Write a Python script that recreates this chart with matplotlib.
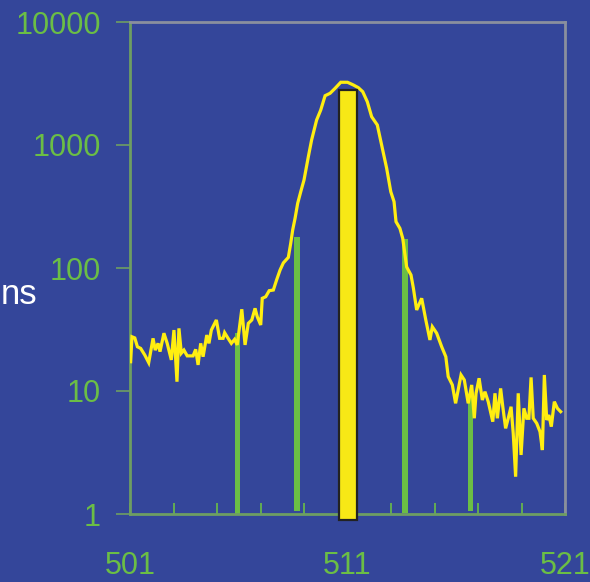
import matplotlib
matplotlib.use("Agg")
import matplotlib.pyplot as plt
from matplotlib.ticker import FixedLocator, FixedFormatter, NullLocator

# ---- data ----
spec_x = [501.03, 501.09, 501.22, 501.34, 501.49, 501.68, 501.86, 502.06, 502.16, 502.29,
          502.38, 502.56, 502.71, 502.90, 503.02, 503.16, 503.25, 503.36, 503.48, 503.63,
          503.90, 504.02, 504.13, 504.25, 504.36, 504.53, 504.63, 504.74, 504.97, 505.12,
          505.28, 505.35, 505.51, 505.66, 505.81, 505.93, 506.14, 506.29, 506.44, 506.60,
          506.75, 506.85, 507.01, 507.08, 507.24, 507.40, 507.59, 507.74, 507.90, 508.05,
          508.28, 508.39, 508.48, 508.59, 508.71, 508.85, 509.00, 509.20, 509.35, 509.58,
          509.77, 509.97, 510.20, 510.43, 510.69, 511.00, 511.27, 511.50, 511.70, 511.91,
          512.11, 512.37, 512.57, 512.80, 512.99, 513.14, 513.23, 513.41, 513.54, 513.72,
          513.92, 514.03, 514.18, 514.41, 514.60, 514.79, 514.90, 515.10, 515.33, 515.52,
          515.63, 515.82, 515.97, 516.22, 516.37, 516.55, 516.71, 516.83, 516.91, 517.05,
          517.20, 517.32, 517.47, 517.68, 517.78, 517.89, 518.04, 518.14, 518.27, 518.39,
          518.52, 518.62, 518.73, 518.85, 518.98, 519.11, 519.24, 519.34, 519.44, 519.54,
          519.70, 519.85, 519.96, 520.05, 520.16, 520.26, 520.37, 520.51, 520.65, 520.80]
spec_y = [17.3, 27.6, 27.0, 22.9, 22.2, 19.6, 17.0, 26.8, 21.5, 24.4,
          20.9, 29.5, 24.4, 17.9, 31.3, 11.9, 32.3, 20.3, 21.5, 19.3,
          19.3, 21.8, 16.3, 24.4, 19.0, 28.5, 24.4, 31.3, 37.8, 26.8,
          26.8, 29.8, 26.8, 24.4, 26.3, 23.7, 46.2, 23.7, 35.5, 37.8,
          47.0, 40.2, 34.4, 56.7, 58.4, 65.4, 66.2, 79.9, 96.3, 110,
          122, 159, 204, 254, 336, 417, 519, 804, 1099, 1596,
          1926, 2517, 2633, 2891, 3236, 3236, 3076, 2924, 2713, 2249,
          1698, 1455, 1000, 647, 417, 346, 238, 210, 174, 102,
          87.7, 68.4, 45.6, 56.7, 37.8, 26.0, 33.3, 29.5, 22.9, 19.0,
          13.1, 11.2, 7.94, 13.5, 12.3, 7.94, 11.2, 6.0, 9.58, 12.7,
          8.45, 9.87, 8.19, 5.63, 9.58, 6.0, 10.5, 7.45, 4.97, 6.0,
          7.45, 4.53, 2.01, 9.58, 3.02, 7.23, 6.0, 6.0, 12.9, 6.0,
          5.46, 4.67, 3.31, 13.5, 5.81, 6.38, 5.13, 8.19, 7.23, 6.79]

green_x = [505.95, 508.68, 513.64, 516.66]
green_top = [29.6, 179, 171, 9.0]
green_bottom = [1.0, 1.06, 1.01, 1.05]

main_x = [511.02]
main_top = [2800]
main_bottom = [0.89]

xtick_labels = ["501", "511", "521"]
xtick_major = [501, 511, 521]
xtick_minor = [503, 505, 507, 509, 513, 515, 517, 519]
ytick_vals = [1, 10, 100, 1000, 10000]
ytick_labels = ["1", "10", "100", "1000", "10000"]

# ---- style ----
BG = "#34469A"
GREEN = "#6BBE45"
SPINE_G = "#6E9E62"
SPINE_GREY = "#8A8F9E"
YELLOW_LINE = "#FFEE10"
YELLOW_BAR = "#F7E816"

plt.rcParams['font.family'] = ['Liberation Sans', 'DejaVu Sans']

fig = plt.figure(figsize=(5.90, 5.82), dpi=100)
fig.patch.set_facecolor(BG)
ax = fig.add_axes([130/590, 1-514/582, 435/590, 492/582])
ax.set_facecolor(BG)

ax.set_yscale('log')
ax.set_xlim(501, 521)
ax.set_ylim(1, 10000)

# green bars
for gx, gt, gb in zip(green_x, green_top, green_bottom):
    ax.bar(gx, gt - gb, bottom=gb, width=0.24, color=GREEN, edgecolor='none', zorder=2)

# spectrum line
ax.plot(spec_x, spec_y, color=YELLOW_LINE, lw=2.3, zorder=3, solid_joinstyle='miter')

# main yellow bar
for mx, mt, mb in zip(main_x, main_top, main_bottom):
    ax.bar(mx, mt - mb, bottom=mb, width=0.82, color=YELLOW_BAR, edgecolor='#222222',
           linewidth=1.6, zorder=4, clip_on=False)

# spines
for s in ['left', 'bottom']:
    ax.spines[s].set_color(SPINE_G)
    ax.spines[s].set_linewidth(2)
for s in ['top', 'right']:
    ax.spines[s].set_color(SPINE_GREY)
    ax.spines[s].set_linewidth(2)

# y ticks
ax.yaxis.set_major_locator(FixedLocator(ytick_vals))
ax.yaxis.set_major_formatter(FixedFormatter(ytick_labels))
ax.yaxis.set_minor_locator(NullLocator())
ax.tick_params(axis='y', which='major', direction='out', length=10, width=1.2,
               color=SPINE_G, labelcolor=GREEN, labelsize=22, pad=11)

# x ticks
ax.xaxis.set_major_locator(FixedLocator(xtick_major))
ax.xaxis.set_major_formatter(FixedFormatter(xtick_labels))
ax.xaxis.set_minor_locator(FixedLocator(xtick_minor))
ax.tick_params(axis='x', which='both', direction='in', length=8, width=1.2,
               color=GREEN, labelcolor=GREEN, labelsize=22, pad=27)

fig.text(37/590, 1-295/582, "ns", color='white', fontsize=25, ha='right', va='center')

fig.savefig("out.png", dpi=100, facecolor=BG)
